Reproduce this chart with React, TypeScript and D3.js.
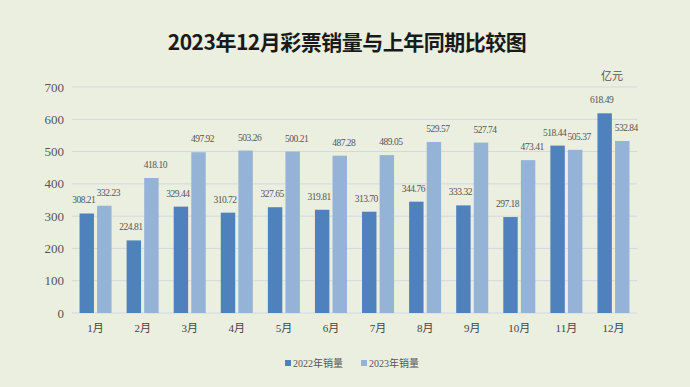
import React, { useRef, useEffect } from 'react';
import * as d3 from 'd3';

// months and sales (亿元)
const months = ['1月', '2月', '3月', '4月', '5月', '6月', '7月', '8月', '9月', '10月', '11月', '12月'];
const sales2022 = [308.21, 224.81, 329.44, 310.72, 327.65, 319.81, 313.70, 344.76, 333.32, 297.18, 518.44, 618.49];
const sales2023 = [332.23, 418.10, 497.92, 503.26, 500.21, 487.28, 489.05, 529.57, 527.74, 473.41, 505.37, 532.84];
const yTicks = [0, 100, 200, 300, 400, 500, 600, 700];
const seriesNames = ['2022年销量', '2023年销量'];
const colors = ['#4F81BD', '#95B3D7'];

const W = 690;
const H = 387;

const App = () => {
    const svgRef = useRef<SVGSVGElement>(null);

    useEffect(() => {
        const svg = d3.select(svgRef.current);
        svg.selectAll('*').remove();

        const margin = { left: 72, right: 53, top: 87, bottom: 74 };
        const serif = '"Liberation Serif", "Noto Sans CJK SC", serif';

        svg.append('rect').attr('width', W).attr('height', H).attr('fill', '#EBEFDF');

        const x = d3.scaleBand().domain(months).range([margin.left, W - margin.right]).paddingInner(0.32).paddingOuter(0.16);
        const x1 = d3.scaleBand().domain(['0', '1']).range([0, x.bandwidth()]).paddingInner(0.18);
        const y = d3.scaleLinear().domain([0, 700]).range([H - margin.bottom, margin.top]);

        // title
        svg.append('text')
            .attr('x', 347).attr('y', 50)
            .attr('text-anchor', 'middle')
            .style('font-family', '"Noto Sans CJK SC", sans-serif')
            .style('font-weight', 'bold')
            .style('font-size', '21px')
            .style('letter-spacing', '-0.5px')
            .attr('fill', '#1a1a1a')
            .text('2023年12月彩票销量与上年同期比较图');

        // gridlines + y labels
        svg.append('g').selectAll('line').data(yTicks).enter().append('line')
            .attr('x1', margin.left).attr('x2', W - margin.right)
            .attr('y1', d => y(d)).attr('y2', d => y(d))
            .attr('stroke', '#D3D7E3').attr('stroke-width', 1);

        svg.append('g').selectAll('text').data(yTicks).enter().append('text')
            .attr('x', 64).attr('y', d => y(d))
            .attr('dy', '0.35em')
            .attr('text-anchor', 'end')
            .style('font-family', serif)
            .style('font-size', '13px')
            .attr('fill', '#555')
            .text(d => d);

        // unit
        svg.append('text')
            .attr('x', 612).attr('y', 80)
            .attr('text-anchor', 'middle')
            .style('font-family', '"Noto Sans CJK SC", sans-serif')
            .style('font-size', '11px')
            .attr('fill', '#555')
            .text('亿元');

        const series = [sales2022, sales2023];
        const labelShift = [-3, 4];
        series.forEach((vals, si) => {
            const g = svg.append('g');
            g.selectAll('rect').data(vals).enter().append('rect')
                .attr('x', (d, i) => (x(months[i]) as number) + (x1(String(si)) as number))
                .attr('y', d => y(d))
                .attr('width', x1.bandwidth())
                .attr('height', d => y(0) - y(d))
                .attr('fill', colors[si]);

            g.selectAll('text').data(vals).enter().append('text')
                .attr('x', (d, i) => (x(months[i]) as number) + (x1(String(si)) as number) + x1.bandwidth() / 2 + labelShift[si])
                .attr('y', d => y(d) - 10)
                .attr('text-anchor', 'middle')
                .style('font-family', serif)
                .style('font-size', '9.5px')
                .style('letter-spacing', '-0.5px')
                .attr('fill', '#555')
                .text(d => d.toFixed(2));
        });

        // month labels
        svg.append('g').selectAll('text').data(months).enter().append('text')
            .attr('x', d => (x(d) as number) + x.bandwidth() / 2)
            .attr('y', y(0) + 19)
            .attr('text-anchor', 'middle')
            .style('font-family', serif)
            .style('font-size', '11px')
            .attr('fill', '#444')
            .text(d => d);

        // legend
        const legend = svg.append('g');
        const lx = [285, 361];
        seriesNames.forEach((name, i) => {
            legend.append('rect').attr('x', lx[i]).attr('y', 360).attr('width', 6).attr('height', 6).attr('fill', colors[i]);
            legend.append('text')
                .attr('x', lx[i] + 8).attr('y', 363)
                .attr('dy', '0.35em')
                .style('font-family', serif)
                .style('font-size', '10px')
                .attr('fill', '#555')
                .text(name);
        });
    }, []);

    return <svg ref={svgRef} width={W} height={H} style={{ display: 'block', position: 'absolute', left: 0, top: 0 }} />;
};

export default App;
